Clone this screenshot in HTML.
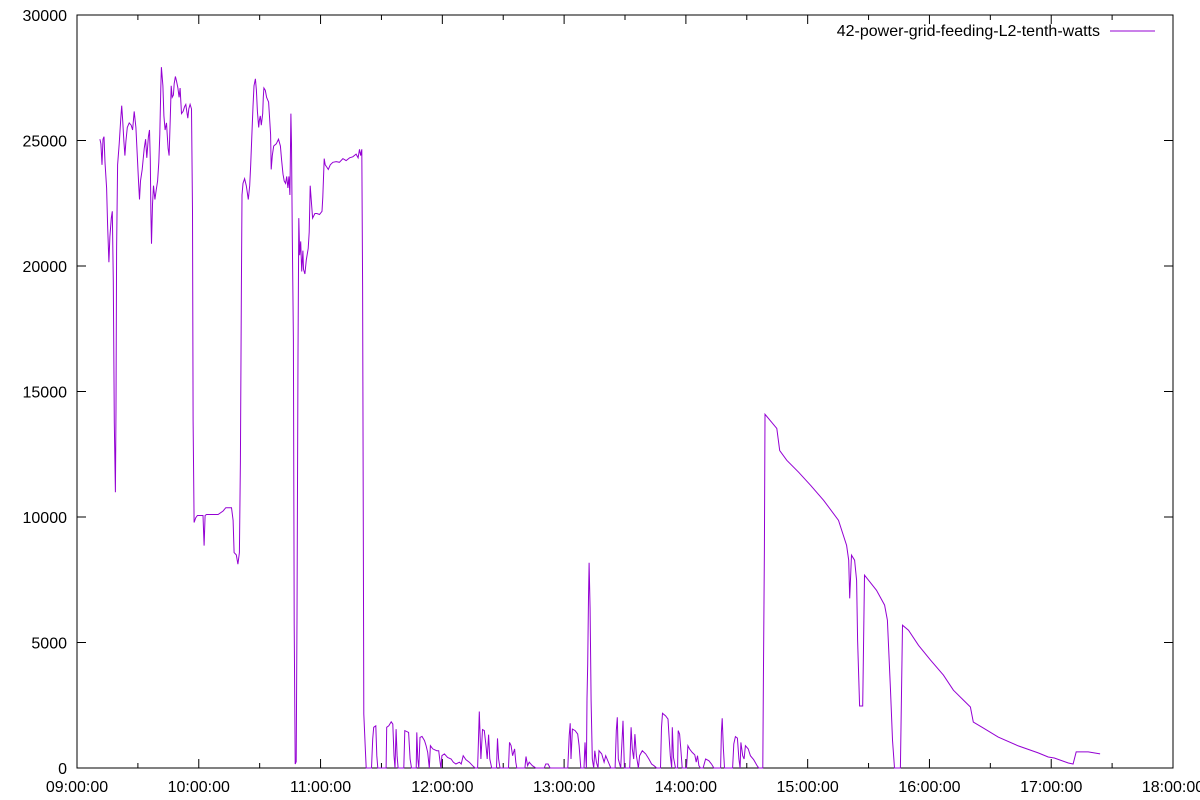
<!DOCTYPE html>
<html><head><meta charset="utf-8"><style>
html,body{margin:0;padding:0;background:#fff;}
svg{display:block;font-family:"Liberation Sans",Arial,sans-serif;}
</style></head><body>
<svg id="chart" width="1200" height="800" viewBox="0 0 1200 800" xmlns="http://www.w3.org/2000/svg">
<g id="grid"></g>
<rect x="77" y="15" width="1096" height="753" fill="none" stroke="#000" stroke-width="1"/>
<g id="axes"></g>
<path id="series" fill="none" stroke="#9400d3" stroke-width="1"/>
<g>
<text x="1100" y="36" font-size="16" text-anchor="end" fill="#000">42-power-grid-feeding-L2-tenth-watts</text>
<line x1="1110" y1="31" x2="1155" y2="31" stroke="#9400d3" stroke-width="1"/>
</g>
</svg>
<script>
// minutes after 09:00
const times = [11.3,11.8,12.3,12.8,13.3,13.8,14.6,15.1,15.7,16.2,16.9,17.4,17.9,18.4,18.9,19.2,19.5,20.0,20.8,21.6,22.0,22.5,23.1,23.6,24.1,24.8,25.7,26.7,27.4,28.2,29.0,29.8,30.3,30.8,31.3,32.1,33.1,33.8,34.4,35.2,35.7,36.1,36.4,36.7,37.2,37.7,38.4,39.0,39.7,40.3,40.8,41.3,41.6,42.3,42.8,43.4,44.1,44.9,45.4,45.9,46.4,46.9,47.5,47.9,48.5,49.0,49.7,50.3,50.8,51.5,52.3,53.0,53.6,54.1,54.6,55.1,55.7,56.4,56.9,57.2,57.7,58.5,59.3,60.5,62.1,62.6,63.1,63.8,69.5,72.0,73.3,76.1,76.9,77.4,78.5,79.3,80.0,80.5,81.0,81.3,81.8,82.6,83.4,84.4,85.1,85.6,86.1,86.7,87.2,87.9,88.4,88.9,89.5,89.8,90.3,90.8,91.5,91.8,92.1,92.8,93.4,94.4,94.9,95.4,95.7,96.2,96.9,98.2,99.3,100.2,100.8,101.5,102.1,102.8,103.3,103.9,104.4,104.9,105.4,105.7,106.1,106.6,107.0,107.5,108.0,108.4,108.9,109.3,109.7,110.2,110.7,111.3,111.6,112.3,113.0,113.9,114.4,114.9,115.4,116.1,117.2,118.2,119.5,120.7,121.1,121.8,122.3,123.1,123.8,124.8,126.1,127.7,129.3,131.0,132.6,134.3,135.9,137.5,138.5,139.2,139.8,140.3,140.7,141.1,141.3,142.1,142.5,145.1,145.7,146.2,147.2,147.7,148.2,152.3,152.6,153.6,154.8,155.6,156.2,156.7,157.2,157.7,158.2,161.0,161.5,163.4,164.1,164.8,167.1,167.4,167.9,168.4,169.0,170.0,171.2,172.0,172.8,173.3,173.6,174.1,175.3,177.2,178.2,178.9,179.3,179.8,181.0,182.6,184.3,185.4,186.7,188.4,189.3,190.3,191.6,193.3,194.9,196.2,197.4,197.7,198.2,199.0,199.8,200.7,201.5,202.1,202.8,203.4,204.3,206.7,207.2,207.7,208.4,212.6,213.1,213.9,214.6,215.6,216.2,216.7,220.7,221.2,222.0,222.8,224.4,226.1,230.2,231.0,232.1,233.1,241.8,242.5,243.0,243.4,244.1,245.4,246.7,247.4,248.2,249.8,250.3,251.0,251.3,251.6,252.0,252.3,252.8,253.3,253.9,254.6,255.1,255.9,256.7,257.2,258.5,259.7,260.5,261.8,263.0,265.1,265.7,266.2,266.7,267.9,269.0,269.7,272.3,273.0,273.6,274.3,274.9,275.6,276.6,277.2,278.5,280.2,281.8,283.1,284.3,285.6,287.5,288.0,288.5,290.0,291.2,291.6,292.3,293.0,293.3,293.9,294.9,295.9,296.2,296.9,297.5,298.2,300.3,301.0,301.8,303.1,304.4,305.1,305.7,306.4,307.2,308.5,309.7,311.3,312.6,313.8,317.1,317.5,317.9,318.5,319.0,323.0,323.6,324.4,325.4,326.1,326.7,327.1,328.0,328.7,329.3,330.7,331.8,333.4,335.1,335.9,337.9,338.2,338.7,339.0,344.8,346.2,349.7,355.6,361.5,367.9,375.2,379.2,380.2,380.7,381.6,383.1,384.1,384.6,385.6,387.1,388.0,390.0,393.9,397.9,399.3,400.8,401.8,402.8,405.7,406.7,409.7,414.6,420.5,426.9,431.8,436.7,440.2,441.6,446.6,453.9,463.8,473.6,478.5,481.5,488.4,490.8,492.3,498.2,504.1];
const watts = [25050,24870,24030,25050,25150,24130,23110,21630,20150,21170,21910,22180,19410,13760,10990,14320,20700,24030,24870,25890,26390,25790,24960,24400,24960,25520,25700,25610,25420,26160,25520,24220,23390,22650,23390,23850,24680,25050,24310,25150,25420,24220,22090,20890,22460,23200,22650,23020,23390,24130,25240,27090,27920,27180,25980,25420,25700,24680,24400,25790,27180,26720,26810,27270,27550,27370,27090,26720,27090,26070,26160,26350,26440,26160,25890,26260,26440,26260,22180,13850,9780,9970,10060,10060,10060,8860,10060,10100,10100,10240,10370,10370,9870,8580,8490,8120,8580,12190,19220,22830,23290,23480,23200,22650,23200,24030,25150,26350,27180,27460,27000,26160,25520,25790,25980,25610,26070,26720,27090,27000,26720,26530,25890,25240,23850,24400,24780,24870,25050,24780,24220,23660,23390,23290,23570,23110,23570,22830,26070,24870,21170,17090,5710,160,250,5990,16540,21910,20430,20980,19780,20610,19870,19680,20240,20700,21350,23200,22650,21910,22090,22090,22050,22180,22740,24280,24030,23940,23850,24030,24130,24160,24130,24280,24200,24310,24350,24460,24310,24650,24400,24650,19220,8210,2150,690,0,0,1150,1620,1680,490,0,0,1620,1680,1840,1750,490,0,1550,490,0,0,1490,1420,360,0,0,1420,360,0,1220,1260,1090,890,620,230,0,890,760,690,690,230,0,490,560,420,360,230,160,230,160,490,330,230,90,0,0,890,2250,360,1530,1490,890,360,1330,360,0,0,1180,360,0,0,1020,890,490,760,230,0,0,460,90,230,90,0,0,160,160,0,0,1290,1780,360,1550,1490,1350,890,0,0,1020,0,2750,4140,6790,8180,6330,2680,360,0,690,230,0,690,560,230,490,230,0,0,1490,2020,360,0,1880,0,0,1620,760,360,1350,490,0,490,690,560,360,160,90,0,0,1620,2180,2080,1950,1420,490,0,1620,420,0,0,1490,1350,760,0,0,890,760,620,520,230,490,90,0,0,360,290,160,0,0,1420,1980,760,0,0,960,1250,1190,360,0,1020,490,360,890,760,490,330,90,0,0,3540,8710,14090,13530,12650,12260,11780,11260,10660,9870,8870,8280,6760,8480,8280,7480,5090,2470,2470,7680,7480,7080,6490,5890,3100,1110,0,0,5690,5490,4890,4300,3700,3100,2710,2430,1830,1590,1230,880,600,440,400,200,160,640,640,560];
const yTicks = [0,5000,10000,15000,20000,25000,30000];
const xTickLabels = ["09:00:00","10:00:00","11:00:00","12:00:00","13:00:00","14:00:00","15:00:00","16:00:00","17:00:00","18:00:00"];

const L=77,R=1173,T=15,B=768,XMAX=540,YMAX=30000;
const xs=m=>L+(R-L)*m/XMAX;
const ys=v=>B-(B-T)*v/YMAX;
const NS="http://www.w3.org/2000/svg";
const axes=document.getElementById('axes');
function mk(tag,attrs){const e=document.createElementNS(NS,tag);for(const k in attrs)e.setAttribute(k,attrs[k]);return e;}

yTicks.forEach(v=>{
  const y=ys(v);
  const t1=mk('line',{x1:L,x2:L+9,y1:y,y2:y,stroke:'#000'});
  
  
  axes.appendChild(t1);
  const t2=mk('line',{x1:R-9,x2:R,y1:y,y2:y,stroke:'#000'});
  
  
  axes.appendChild(t2);
  const lb=mk('text',{x:67,y:y+6,'font-size':16,'text-anchor':'end',fill:'#000'});
  
  
  lb.textContent=String(v);
  axes.appendChild(lb);
});
xTickLabels.forEach((s,i)=>{
  const x=xs(i*60);
  [[B,B-9],[T,T+9]].forEach(p=>{
    const t=mk('line',{x1:x,x2:x,y1:p[0],y2:p[1],stroke:'#000'});
    
    
    axes.appendChild(t);
  });
  if(i<xTickLabels.length-1){
    const xm=xs(i*60+30);
    [[B,B-5],[T,T+5]].forEach(p=>{
      const t=mk('line',{x1:xm,x2:xm,y1:p[0],y2:p[1],stroke:'#000'});
      
      
      axes.appendChild(t);
    });
  }
  const lb=mk('text',{x:x,y:792,'font-size':16,'text-anchor':'middle',fill:'#000'});
  
  
  lb.textContent=s;
  axes.appendChild(lb);
});
let d='';
times.forEach((t,i)=>{d+=(i?'L':'M')+xs(t).toFixed(1)+','+ys(watts[i]).toFixed(1);});
document.getElementById('series').setAttribute('d',d);
</script>
</body></html>
